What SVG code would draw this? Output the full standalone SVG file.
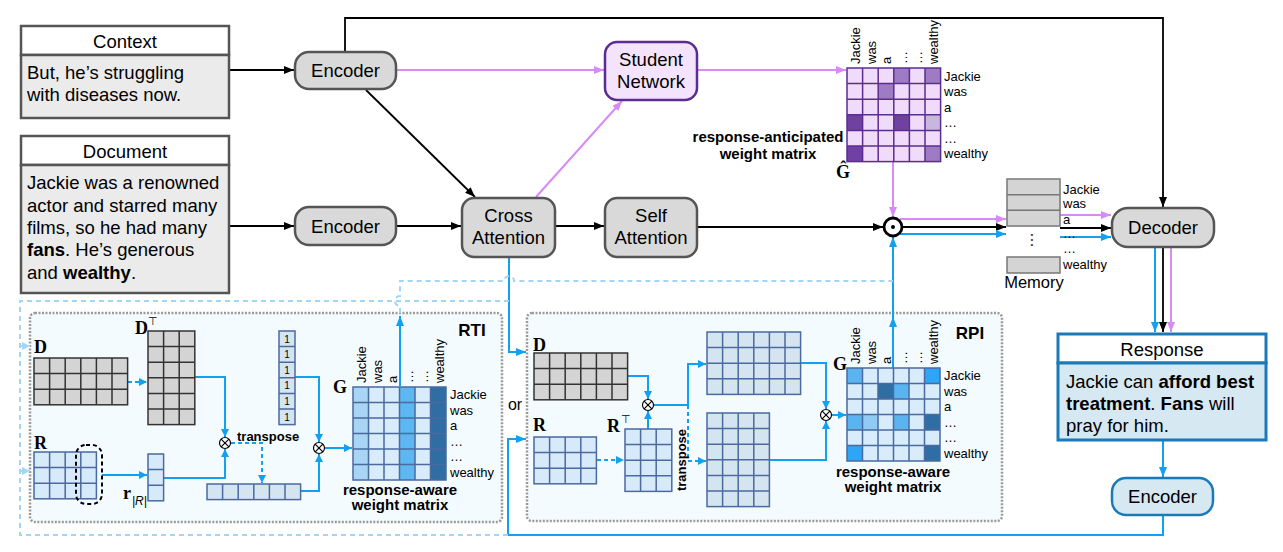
<svg xmlns="http://www.w3.org/2000/svg" width="1283" height="552" viewBox="0 0 1283 552">
<defs>
<style>
text{font-family:"Liberation Sans",Arial,sans-serif;fill:#000}
.t18{font-size:18.5px}
.lbl{font-size:13px}
.b{font-weight:bold}
.ser{font-family:"Liberation Serif","Times New Roman",serif;font-weight:bold;font-size:18px}
.node{fill:#d9d9d9;stroke:#555;stroke-width:2.5}
.bk{fill:none;stroke:#000;stroke-width:1.8}
.pu{fill:none;stroke:#d88af7;stroke-width:2}
.bl{fill:none;stroke:#12a0f0;stroke-width:2}
.bld{fill:none;stroke:#12a0f0;stroke-width:2;stroke-dasharray:4 3}
.lb{fill:none;stroke:#a3d5f7;stroke-width:2;stroke-dasharray:5 4}
.grayM{fill:#d4d4d4;stroke:#333;stroke-width:1.5}
.gridK{fill:none;stroke:#333;stroke-width:1.5}
.blueM{fill:#d7eafa;stroke:#4a6aa0;stroke-width:1.5}
.blueG{fill:#d5e5ef;stroke:#4a6aa0;stroke-width:1.5}
.gridB{fill:none;stroke:#4a6aa0;stroke-width:1.5}
.gridP{fill:none;stroke:#5b2d90;stroke-width:1.5}
.frame{fill:#f4fbfe;stroke:#9a9a9a;stroke-width:2.5;stroke-dasharray:2 1.5}
.otimes{fill:#fff;stroke:#000;stroke-width:1.2}
</style>
<marker id="ak" viewBox="0 0 10 8" refX="10" refY="4" markerWidth="10" markerHeight="8" markerUnits="userSpaceOnUse" orient="auto"><path d="M0,0 L10,4 L0,8 z" fill="#000"/></marker>
<marker id="ap" viewBox="0 0 10 8" refX="10" refY="4" markerWidth="10" markerHeight="8" markerUnits="userSpaceOnUse" orient="auto"><path d="M0,0 L10,4 L0,8 z" fill="#d88af7"/></marker>
<marker id="ab" viewBox="0 0 10 8" refX="10" refY="4" markerWidth="10" markerHeight="8" markerUnits="userSpaceOnUse" orient="auto"><path d="M0,0 L10,4 L0,8 z" fill="#12a0f0"/></marker>
<marker id="as" viewBox="0 0 8 8" refX="8" refY="4" markerWidth="8" markerHeight="8" markerUnits="userSpaceOnUse" orient="auto"><path d="M0,0 L8,4 L0,8 z" fill="#12a0f0"/></marker>
<marker id="al" viewBox="0 0 8 8" refX="8" refY="4" markerWidth="8" markerHeight="8" markerUnits="userSpaceOnUse" orient="auto"><path d="M0,0 L8,4 L0,8 z" fill="#a3d5f7"/></marker>
</defs>
<rect width="1283" height="552" fill="#fff"/>

<!-- frames -->
<g id="rti-frame"><rect class="frame" x="30" y="313" width="472" height="209" rx="5"/><text x="472" y="336" text-anchor="middle" class="b" font-size="17">RTI</text></g>
<g id="rpi-frame"><rect class="frame" x="527" y="313" width="475" height="208" rx="5"/><text x="970" y="339" text-anchor="middle" class="b" font-size="17">RPI</text></g>

<!-- connectors -->
<g id="connectors">
<path class="bk" d="M229,70 H294" marker-end="url(#ak)"/>
<path class="bk" d="M229,226 H294" marker-end="url(#ak)"/>
<path class="bk" d="M345,51 V18 H1163 V207" marker-end="url(#ak)"/>
<path class="bk" d="M366,90 L475,197" marker-end="url(#ak)"/>
<path class="bk" d="M396,226 H461" marker-end="url(#ak)"/>
<path class="bk" d="M555,226 H604" marker-end="url(#ak)"/>
<path class="bk" d="M697,227 H883" marker-end="url(#ak)"/>
<path class="bk" d="M903,227 H1006" marker-end="url(#ak)"/>
<path class="bk" d="M1060,228 H1111" marker-end="url(#ak)"/>
<path class="bk" d="M1163,247 V332" marker-end="url(#ak)"/>

<path class="pu" d="M396,70 H604" marker-end="url(#ap)"/>
<path class="pu" d="M697,70 H846" marker-end="url(#ap)"/>
<path class="pu" d="M536,197 L622,101" marker-end="url(#ap)"/>
<path class="pu" d="M893,162 V217" marker-end="url(#ap)"/>
<path class="pu" d="M900,219 H1006" marker-end="url(#ap)"/>
<path class="pu" d="M1060,215 H1111" marker-end="url(#ap)"/>
<path class="pu" d="M1171,247 V332" marker-end="url(#ap)"/>

<path class="bl" d="M900,234 H1006" marker-end="url(#ab)"/>
<path class="bl" d="M1060,237 H1111" marker-end="url(#ab)"/>
<path class="bl" d="M1155,247 V332" marker-end="url(#ab)"/>
<path class="bl" d="M1163,440 V477" marker-end="url(#ab)"/>
<path class="bl" d="M1163,515 V535 H508 V439 H526" marker-end="url(#ab)"/>
<path class="bl" d="M509,257 V352 H526" marker-end="url(#ab)"/>
<path class="bl" d="M893,368 V317" marker-end="url(#ab)"/>
<path class="bl" d="M893,317 V237" marker-end="url(#ab)"/>
<path class="bl" d="M400,386 V316" marker-end="url(#ab)"/>

<path class="lb" d="M509,301 H20 V535 H508"/>
<path class="lb" d="M20,346 H30" marker-end="url(#al)"/>
<path class="lb" d="M20,471 H30" marker-end="url(#al)"/>
<path class="lb" d="M400,313 V306 A5,5 0 0 1 400,296 V281 H504 A5,5 0 0 1 514,281 H893"/>

<!-- RTI internal -->
<path class="bld" d="M128,382 H147" marker-end="url(#as)"/>
<path class="bl" d="M102,475 H147" marker-end="url(#as)"/>
<path class="bl" d="M195,377 H225 V437" marker-end="url(#as)"/>
<path class="bl" d="M164,478 H225 V449" marker-end="url(#as)"/>
<path class="bld" d="M231,443 H262 V483" marker-end="url(#as)"/>
<path class="bl" d="M301,491 H319 V454" marker-end="url(#as)"/>
<path class="bl" d="M295,377 H319 V442" marker-end="url(#as)"/>
<path class="bl" d="M325,448 H352" marker-end="url(#as)"/>
<!-- RPI internal -->
<path class="bld" d="M597,460 H624" marker-end="url(#as)"/>
<path class="bl" d="M628,376 H648 V399" marker-end="url(#as)"/>
<path class="bl" d="M648,429 V411" marker-end="url(#as)"/>
<path class="bl" d="M654,405 H688 V364 H706" marker-end="url(#as)"/>
<path class="bld" d="M688,405 V461 H706" marker-end="url(#as)"/>
<path class="bl" d="M801,363 H826 V409" marker-end="url(#as)"/>
<path class="bl" d="M770,460 H826 V421" marker-end="url(#as)"/>
<path class="bl" d="M832,415 H846" marker-end="url(#as)"/>
</g>

<!-- nodes -->
<g id="context">
<rect x="21" y="26" width="208" height="29" fill="#fff" stroke="#555" stroke-width="2.5"/>
<rect x="21" y="55" width="208" height="63" fill="#ebebeb" stroke="#555" stroke-width="2.5"/>
<text x="125" y="48" text-anchor="middle" class="t18">Context</text>
<text x="27" y="79" class="t18">But, he’s struggling</text>
<text x="27" y="101" class="t18">with diseases now.</text>
</g>
<g id="document">
<rect x="21" y="136" width="208" height="29" fill="#fff" stroke="#555" stroke-width="2.5"/>
<rect x="21" y="165" width="208" height="128" fill="#ebebeb" stroke="#555" stroke-width="2.5"/>
<text x="125" y="158" text-anchor="middle" class="t18">Document</text>
<text x="27" y="189" class="t18">Jackie was a renowned</text>
<text x="27" y="212" class="t18">actor and starred many</text>
<text x="27" y="234" class="t18">films, so he had many</text>
<text x="27" y="256" class="t18"><tspan class="b">fans</tspan>. He’s generous</text>
<text x="27" y="279" class="t18">and <tspan class="b">wealthy</tspan>.</text>
</g>
<g id="encoder1"><rect class="node" x="295" y="52" width="101" height="37" rx="14"/><text x="345.5" y="77" text-anchor="middle" class="t18">Encoder</text></g>
<g id="encoder2"><rect class="node" x="295" y="207" width="101" height="38" rx="14"/><text x="345.5" y="233" text-anchor="middle" class="t18">Encoder</text></g>
<g id="cross-attention"><rect class="node" x="462" y="198" width="93" height="59" rx="12"/><text x="508.5" y="222" text-anchor="middle" class="t18">Cross</text><text x="508.5" y="244" text-anchor="middle" class="t18">Attention</text></g>
<g id="self-attention"><rect class="node" x="605" y="198" width="92" height="59" rx="12"/><text x="651" y="222" text-anchor="middle" class="t18">Self</text><text x="651" y="244" text-anchor="middle" class="t18">Attention</text></g>
<g id="student-network"><rect x="605" y="42" width="92" height="58" rx="12" fill="#f4e3fc" stroke="#5b2d90" stroke-width="2.5"/><text x="651" y="66" text-anchor="middle" class="t18">Student</text><text x="651" y="88" text-anchor="middle" class="t18">Network</text></g>
<g id="decoder"><rect class="node" x="1112" y="208" width="102" height="39" rx="16"/><text x="1163" y="234" text-anchor="middle" class="t18">Decoder</text></g>
<g id="response">
<rect x="1058" y="334" width="208" height="29" fill="#fff" stroke="#1a7ab8" stroke-width="3"/>
<rect x="1058" y="363" width="208" height="77" fill="#d6e8f2" stroke="#1a7ab8" stroke-width="3"/>
<text x="1162" y="356" text-anchor="middle" class="t18">Response</text>
<text x="1066" y="388" class="t18">Jackie can <tspan class="b">afford best</tspan></text>
<text x="1066" y="410" class="t18"><tspan class="b">treatment</tspan>. <tspan class="b">Fans</tspan> will</text>
<text x="1066" y="432" class="t18">pray for him.</text>
</g>
<g id="encoder3"><rect x="1112" y="478" width="101" height="37" rx="14" fill="#d6e8f2" stroke="#1a7ab8" stroke-width="2.5"/><text x="1162.5" y="503" text-anchor="middle" class="t18">Encoder</text></g>
<g id="odot"><circle cx="893" cy="227" r="9" fill="#fff" stroke="#000" stroke-width="2.8"/><circle cx="893" cy="227" r="2" fill="#000"/></g>

<g id="memory">
<rect x="1007" y="179" width="53" height="47" fill="#d4d4d4" stroke="#777" stroke-width="1.5"/>
<path d="M1007,194.7H1060 M1007,210.3H1060" stroke="#777" stroke-width="1.5"/>
<rect x="1007" y="257" width="53" height="16" fill="#d4d4d4" stroke="#777" stroke-width="1.5"/>
<text transform="translate(1031,232) rotate(90)" font-size="16">…</text>
<g class="lbl"><text x="1063" y="194" class="lbl">Jackie</text><text x="1063" y="208" class="lbl">was</text><text x="1063" y="224" class="lbl">a</text><text x="1063" y="238" class="lbl">…</text><text x="1063" y="253" class="lbl">…</text><text x="1063" y="269" class="lbl">wealthy</text></g>
<text x="1034" y="288" text-anchor="middle" font-size="16.5">Memory</text>
</g>

<g id="g-hat-matrix">
<rect x="847" y="68" width="93.6" height="93.6" fill="#f0dcfa"/>
<rect x="893.8" y="68" width="15.6" height="15.6" fill="#9d7cc4"/>
<rect x="925" y="68" width="15.6" height="15.6" fill="#9d7cc4"/>
<rect x="878.2" y="83.6" width="15.6" height="15.6" fill="#9d7cc4"/>
<rect x="847" y="114.8" width="15.6" height="15.6" fill="#7040a3"/>
<rect x="893.8" y="114.8" width="15.6" height="15.6" fill="#7040a3"/>
<rect x="925" y="114.8" width="15.6" height="15.6" fill="#c8b6de"/>
<rect x="847" y="146" width="15.6" height="15.6" fill="#7040a3"/>
<rect x="925" y="146" width="15.6" height="15.6" fill="#9d7cc4"/>
<rect class="gridP" x="847" y="68" width="93.6" height="93.6"/>
<path class="gridP" d="M862.6,68V161.6 M878.2,68V161.6 M893.8,68V161.6 M909.4,68V161.6 M925,68V161.6 M847,83.6H940.6 M847,99.2H940.6 M847,114.8H940.6 M847,130.4H940.6 M847,146H940.6"/>
<text transform="translate(860,64) rotate(-90)" class="lbl">Jackie</text>
<text transform="translate(875.5,64) rotate(-90)" class="lbl">was</text>
<text transform="translate(891,64) rotate(-90)" class="lbl">a</text>
<text transform="translate(906.5,64) rotate(-90)" class="lbl">…</text>
<text transform="translate(922,64) rotate(-90)" class="lbl">…</text>
<text transform="translate(938,64) rotate(-90)" class="lbl">wealthy</text>
<text x="944" y="81" class="lbl">Jackie</text><text x="944" y="96" class="lbl">was</text><text x="944" y="112" class="lbl">a</text><text x="944" y="127" class="lbl">…</text><text x="944" y="143" class="lbl">…</text><text x="944" y="158" class="lbl">wealthy</text>
<text x="768" y="142" text-anchor="middle" class="b" font-size="15">response-anticipated</text>
<text x="768" y="159" text-anchor="middle" class="b" font-size="15">weight matrix</text>
<text x="836" y="178" class="ser" font-size="17">Ĝ</text>
</g>

<!-- RTI contents -->
<g id="rti-d">
<text x="34" y="353" class="ser">D</text>
<rect class="grayM" x="34" y="358" width="93.6" height="46.8"/>
<path class="gridK" d="M49.6,358V404.8 M65.2,358V404.8 M80.8,358V404.8 M96.4,358V404.8 M112,358V404.8 M34,373.6H127.6 M34,389.2H127.6"/>
</g>
<g id="rti-dt">
<text x="135" y="334" class="ser">D</text><text x="148" y="325" font-size="11">⊤</text>
<rect class="grayM" x="148" y="331" width="46.8" height="93.6"/>
<path class="gridK" d="M163.6,331V424.6 M179.2,331V424.6 M148,346.6H194.8 M148,362.2H194.8 M148,377.8H194.8 M148,393.4H194.8 M148,409H194.8"/>
</g>
<g id="rti-r">
<text x="34" y="449" class="ser">R</text>
<rect class="blueM" x="34" y="452" width="62.4" height="46.8"/>
<path class="gridB" d="M49.6,452V498.8 M65.2,452V498.8 M80.8,452V498.8 M34,467.6H96.4 M34,483.2H96.4"/>
<rect x="76" y="445" width="26" height="59" rx="10" fill="none" stroke="#000" stroke-width="2" stroke-dasharray="4 3"/>
</g>
<g id="rti-rvec">
<rect class="blueM" x="148" y="454" width="15.6" height="46.8"/>
<path class="gridB" d="M148,469.6H163.6 M148,485.2H163.6"/>
<text x="123" y="499" class="ser">r</text><text x="132" y="505" font-family="Liberation Serif,serif" font-style="italic" font-size="12">|R|</text>
</g>
<g id="rti-ones">
<rect class="blueG" x="279" y="331" width="16" height="93.6"/>
<path class="gridB" d="M279,346.6H295 M279,362.2H295 M279,377.8H295 M279,393.4H295 M279,409H295"/>
<g font-family="Liberation Mono,monospace" font-size="10" text-anchor="middle">
<text x="287" y="342.5" font-family="Liberation Mono,monospace" font-size="10">1</text><text x="287" y="358" font-family="Liberation Mono,monospace" font-size="10">1</text><text x="287" y="373.5" font-family="Liberation Mono,monospace" font-size="10">1</text><text x="287" y="389" font-family="Liberation Mono,monospace" font-size="10">1</text><text x="287" y="405" font-family="Liberation Mono,monospace" font-size="10">1</text><text x="287" y="420.5" font-family="Liberation Mono,monospace" font-size="10">1</text>
</g>
</g>
<g id="rti-hvec">
<rect class="blueG" x="207" y="484" width="93.6" height="15.6"/>
<path class="gridB" d="M222.6,484V499.6 M238.2,484V499.6 M253.8,484V499.6 M269.4,484V499.6 M285,484V499.6"/>
<text x="237" y="441" class="b" font-size="13">transpose</text>
</g>
<g id="rti-otimes">
<circle class="otimes" cx="225" cy="443" r="5.5"/><path d="M221.1,439.1L228.9,446.9M228.9,439.1L221.1,446.9" stroke="#000" stroke-width="1.2"/>
<circle class="otimes" cx="319" cy="448" r="5.5"/><path d="M315.1,444.1L322.9,451.9M322.9,444.1L315.1,451.9" stroke="#000" stroke-width="1.2"/>
</g>
<g id="rti-g">
<rect x="353" y="387" width="93" height="93" fill="#d8ecfb"/>
<rect x="353" y="387" width="15.5" height="93" fill="#a9d5f5"/>
<rect x="399.5" y="387" width="15.5" height="93" fill="#5db8f2"/>
<rect x="430.5" y="387" width="15.5" height="93" fill="#2f6ea3"/>
<rect class="gridB" x="353" y="387" width="93" height="93"/>
<path class="gridB" d="M368.5,387V480 M384,387V480 M399.5,387V480 M415,387V480 M430.5,387V480 M353,402.5H446 M353,418H446 M353,433.5H446 M353,449H446 M353,464.5H446"/>
<text x="333" y="393" class="ser">G</text>
<text transform="translate(366,383) rotate(-90)" class="lbl">Jackie</text>
<text transform="translate(381.5,383) rotate(-90)" class="lbl">was</text>
<text transform="translate(397,383) rotate(-90)" class="lbl">a</text>
<text transform="translate(412.5,383) rotate(-90)" class="lbl">…</text>
<text transform="translate(428,383) rotate(-90)" class="lbl">…</text>
<text transform="translate(443.5,383) rotate(-90)" class="lbl">wealthy</text>
<text x="450" y="399" class="lbl">Jackie</text><text x="450" y="414.5" class="lbl">was</text><text x="450" y="430" class="lbl">a</text><text x="450" y="445.5" class="lbl">…</text><text x="450" y="461" class="lbl">…</text><text x="450" y="476.5" class="lbl">wealthy</text>
<text x="400" y="495" text-anchor="middle" class="b" font-size="15">response-aware</text>
<text x="400" y="510" text-anchor="middle" class="b" font-size="15">weight matrix</text>
</g>
<text x="515" y="410" text-anchor="middle" font-size="16">or</text>

<!-- RPI contents -->
<g id="rpi-d">
<text x="533" y="351" class="ser">D</text>
<rect class="grayM" x="534" y="353" width="93.6" height="46.8"/>
<path class="gridK" d="M549.6,353V399.8 M565.2,353V399.8 M580.8,353V399.8 M596.4,353V399.8 M612,353V399.8 M534,368.6H627.6 M534,384.2H627.6"/>
</g>
<g id="rpi-r">
<text x="533" y="431" class="ser">R</text>
<rect class="blueM" x="534" y="437" width="62.4" height="46.8"/>
<path class="gridB" d="M549.6,437V483.8 M565.2,437V483.8 M580.8,437V483.8 M534,452.6H596.4 M534,468.2H596.4"/>
</g>
<g id="rpi-rt">
<text x="607" y="432" class="ser">R</text><text x="621" y="423" font-size="11">⊤</text>
<rect class="blueM" x="625" y="429" width="46.8" height="62.4"/>
<path class="gridB" d="M640.6,429V491.4 M656.2,429V491.4 M625,444.6H671.8 M625,460.2H671.8 M625,475.8H671.8"/>
</g>
<g id="rpi-otimes">
<circle class="otimes" cx="648" cy="405" r="5.5"/><path d="M644.1,401.1L651.9,408.9M651.9,401.1L644.1,408.9" stroke="#000" stroke-width="1.2"/>
<circle class="otimes" cx="826" cy="415" r="5.5"/><path d="M822.1,411.1L829.9,418.9M829.9,411.1L822.1,418.9" stroke="#000" stroke-width="1.2"/>
<text transform="translate(686,460) rotate(-90)" text-anchor="middle" class="b" font-size="13">transpose</text>
</g>
<g id="rpi-upper">
<rect class="blueG" x="707" y="332" width="93.6" height="62.4"/>
<path class="gridB" d="M722.6,332V394.4 M738.2,332V394.4 M753.8,332V394.4 M769.4,332V394.4 M785,332V394.4 M707,347.6H800.6 M707,363.2H800.6 M707,378.8H800.6"/>
</g>
<g id="rpi-lower">
<rect class="blueG" x="707" y="413" width="62.4" height="93.6"/>
<path class="gridB" d="M722.6,413V506.6 M738.2,413V506.6 M753.8,413V506.6 M707,428.6H769.4 M707,444.2H769.4 M707,459.8H769.4 M707,475.4H769.4 M707,491H769.4"/>
</g>
<g id="rpi-g">
<rect x="847" y="368" width="93" height="93" fill="#d8ecfb"/>
<rect x="847" y="368" width="15.5" height="15.5" fill="#5ab4ef"/>
<rect x="924.5" y="368" width="15.5" height="15.5" fill="#2ea6f7"/>
<rect x="878" y="383.5" width="15.5" height="15.5" fill="#2f6ea3"/>
<rect x="893.5" y="383.5" width="15.5" height="15.5" fill="#5ab4ef"/>
<rect x="847" y="414.5" width="15.5" height="15.5" fill="#5ab4ef"/>
<rect x="862.5" y="414.5" width="15.5" height="15.5" fill="#8fcbf3"/>
<rect x="893.5" y="414.5" width="15.5" height="15.5" fill="#5ab4ef"/>
<rect x="924.5" y="414.5" width="15.5" height="15.5" fill="#2f6ea3"/>
<rect x="847" y="445.5" width="15.5" height="15.5" fill="#2ea6f7"/>
<rect x="924.5" y="445.5" width="15.5" height="15.5" fill="#2f6ea3"/>
<rect class="gridB" x="847" y="368" width="93" height="93"/>
<path class="gridB" d="M862.5,368V461 M878,368V461 M893.5,368V461 M909,368V461 M924.5,368V461 M847,383.5H940 M847,399H940 M847,414.5H940 M847,430H940 M847,445.5H940"/>
<text x="833" y="370" class="ser">G</text>
<text transform="translate(860,364) rotate(-90)" class="lbl">Jackie</text>
<text transform="translate(875.5,364) rotate(-90)" class="lbl">was</text>
<text transform="translate(891,364) rotate(-90)" class="lbl">a</text>
<text transform="translate(906.5,364) rotate(-90)" class="lbl">…</text>
<text transform="translate(922,364) rotate(-90)" class="lbl">…</text>
<text transform="translate(937.5,364) rotate(-90)" class="lbl">wealthy</text>
<text x="944" y="380" class="lbl">Jackie</text><text x="944" y="395.5" class="lbl">was</text><text x="944" y="411" class="lbl">a</text><text x="944" y="426.5" class="lbl">…</text><text x="944" y="442" class="lbl">…</text><text x="944" y="457.5" class="lbl">wealthy</text>
<text x="893" y="477" text-anchor="middle" class="b" font-size="15">response-aware</text>
<text x="893" y="492" text-anchor="middle" class="b" font-size="15">weight matrix</text>
</g>
</svg>
